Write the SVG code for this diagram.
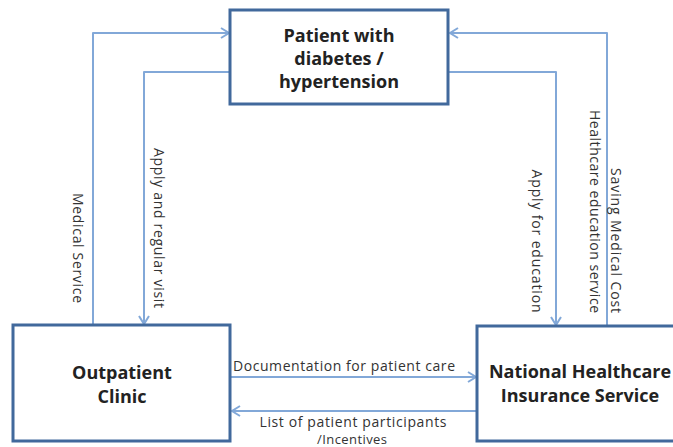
<svg xmlns="http://www.w3.org/2000/svg" width="673" height="447" viewBox="0 0 673 447">
<style>
.node{fill:#ffffff;stroke:#41699c;stroke-width:3}
.ntxt{font-family:"Open Sans","Noto Sans",sans-serif;font-weight:bold;font-size:18px;fill:#222;text-anchor:middle}
.conn{fill:none;stroke:#82a8d8;stroke-width:2;stroke-linejoin:round}
.ltxt{font-family:"Open Sans","Noto Sans",sans-serif;font-size:14px;fill:#333}
</style>
<defs>
<marker id="arr" markerUnits="userSpaceOnUse" markerWidth="12" markerHeight="14" refX="9" refY="6" orient="auto" viewBox="0 0 12 12">
<path d="M1,1 L9,6 L1,11" fill="none" stroke="#82a8d8" stroke-width="2"/>
</marker>
</defs>
<rect width="673" height="447" fill="#ffffff"/>
<g id="connectors">
<path class="conn" d="M93,324 L93,33 L229,33" marker-end="url(#arr)"/>
<path class="conn" d="M229,72 L144,72 L144,324" marker-end="url(#arr)"/>
<path class="conn" d="M449,72 L556,72 L556,325" marker-end="url(#arr)"/>
<path class="conn" d="M607,325 L607,33 L450,33" marker-end="url(#arr)"/>
<path class="conn" d="M231,377 L476,377" marker-end="url(#arr)"/>
<path class="conn" d="M476,411 L232,411" marker-end="url(#arr)"/>
<text class="ltxt" text-anchor="middle" textLength="110" transform="translate(73,248) rotate(90)">Medical Service</text>
<text class="ltxt" text-anchor="middle" textLength="160" transform="translate(154,228) rotate(90)">Apply and regular visit</text>
<text class="ltxt" text-anchor="middle" textLength="143" transform="translate(532,241) rotate(90)">Apply for education</text>
<text class="ltxt" text-anchor="end" textLength="145" transform="translate(611,313) rotate(90)">Saving Medical Cost</text>
<text class="ltxt" text-anchor="end" textLength="203" transform="translate(590,313) rotate(90)">Healthcare education service</text>
<text class="ltxt" text-anchor="middle" textLength="222" x="344" y="371">Documentation for patient care</text>
<text class="ltxt" text-anchor="middle" textLength="187" x="353" y="427">List of patient participants</text>
<text class="ltxt" text-anchor="middle" textLength="70" x="352" y="444" style="font-size:13px">/Incentives</text>
</g>
<g id="patient">
<rect class="node" x="230" y="10" width="218" height="94"/>
<text class="ntxt" x="339" y="42">Patient with</text>
<text class="ntxt" x="339" y="65">diabetes /</text>
<text class="ntxt" x="339" y="88">hypertension</text>
</g>
<g id="outpatient">
<rect class="node" x="13" y="325" width="217" height="116"/>
<text class="ntxt" x="122" y="379">Outpatient</text>
<text class="ntxt" x="122" y="403">Clinic</text>
</g>
<g id="nhis">
<rect class="node" x="477" y="326" width="210" height="115"/>
<text class="ntxt" x="580" y="378">National Healthcare</text>
<text class="ntxt" x="580" y="402">Insurance Service</text>
</g>
</svg>
